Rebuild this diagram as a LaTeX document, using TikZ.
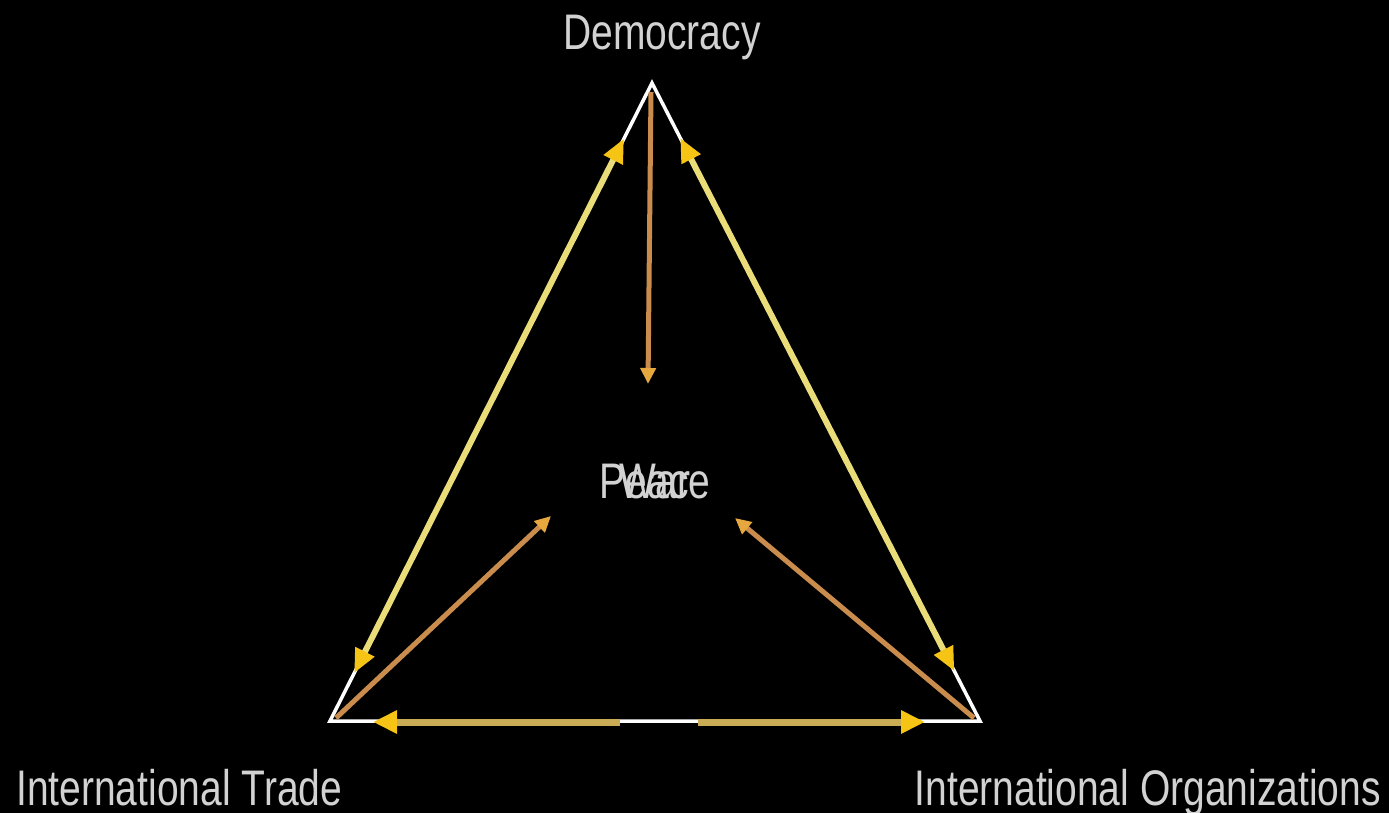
\documentclass[tikz,border=0pt]{standalone}
\usepackage{fontspec}
\setmainfont{Liberation Sans}[FakeStretch=0.78]
\usetikzlibrary{arrows.meta,calc}
\definecolor{txtgray}{HTML}{D2D2D2}
\definecolor{edgeyellow}{HTML}{EADC78}
\definecolor{baseyellow}{HTML}{C9AC55}
\definecolor{headyellow}{HTML}{F5C414}
\definecolor{tanline}{HTML}{C98C4C}
\definecolor{tanhead}{HTML}{E6A83E}
\tikzset{
  lbl/.style={text=txtgray, inner sep=0pt, font=\fontsize{50}{60}\selectfont},
  edge/.style={draw=white, line width=3.5pt, line join=miter},
  yarrow/.style={draw=edgeyellow, line width=6pt, {Triangle[length=24pt,width=20pt,color=headyellow]}-{Triangle[length=24pt,width=20pt,color=headyellow]}},
  ybase/.style={draw=baseyellow, line width=7pt, -{Triangle[length=24pt,width=22pt,color=headyellow]}},
  tarrow/.style={draw=tanline, line width=5pt, -{Triangle[length=16pt,width=15pt,color=tanhead]}}
}
\begin{document}
\begin{tikzpicture}[x=1pt,y=-1pt]
\fill[black] (0,0) rectangle (1389,813);
\useasboundingbox (0,0) rectangle (1389,813);
% corners
\coordinate (A) at (652,83);
\coordinate (BL) at (330,721);
\coordinate (BR) at (980,721);
% arrow ends on the edges
\coordinate (Lt) at ($(A)!0.087!(BL)$);
\coordinate (Lb) at ($(A)!0.925!(BL)$);
\coordinate (Rt) at ($(A)!0.086!(BR)$);
\coordinate (Rb) at ($(A)!0.922!(BR)$);
\coordinate (Bm1) at (620,722);
\coordinate (Bm2) at (698,722);
\coordinate (Bl) at (373,722);
\coordinate (Br) at (925,722);
\coordinate (Vtop) at (651,92);
\coordinate (Vend) at (648,384);
\coordinate (Ls) at (336,718);
\coordinate (Le) at (551,516);
\coordinate (Rs) at (974,718);
\coordinate (Re) at (735,518);
% labels
\node[lbl, anchor=base] (dem) at (662,50) {Democracy};
\node[lbl, anchor=base west] (trade) at (16,805) {International Trade};
\node[lbl, anchor=base east] (org) at (1381,805) {International Organizations};
\node[lbl, anchor=base] (peace) at (655,498) {Peace};
\node[lbl, anchor=base] (war) at (655,498) {War};
% triangle
\draw[edge] (A) -- (BL) -- (BR) -- cycle;
% yellow arrows
\draw[yarrow] (Lt) -- (Lb);
\draw[yarrow] (Rt) -- (Rb);
\draw[ybase] (Bm1) -- (Bl);
\draw[ybase] (Bm2) -- (Br);
% tan arrows
\draw[tarrow] (Vtop) -- (Vend);
\draw[tarrow] (Ls) -- (Le);
\draw[tarrow] (Rs) -- (Re);
\end{tikzpicture}
\end{document}
